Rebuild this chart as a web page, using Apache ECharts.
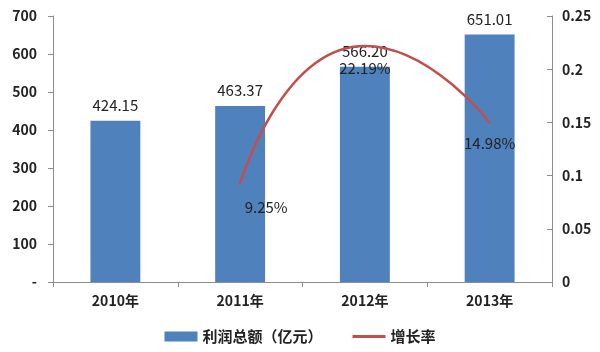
<!DOCTYPE html>
<html lang="zh">
<head>
    <meta charset="UTF-8">
    <title>利润总额及增长率</title>
    <script src="https://cdn.jsdelivr.net/npm/echarts@6/dist/echarts.min.js"></script>
    <style>
        html, body { margin: 0; padding: 0; background: #fff; }
        #main { width: 600px; height: 352px; }
    </style>
</head>
<body>
<div id="main"></div>
<script type="text/javascript">
    // 数据
    var years = ['2010年', '2011年', '2012年', '2013年'];
    var profit = [424.15, 463.37, 566.20, 651.01];
    var growth = [null, 0.0925, 0.2219, 0.1498];
    var growthLabels = ['', '9.25%', '22.19%', '14.98%'];

    var fontFam = '"Noto Sans CJK SC", "DejaVu Sans", sans-serif';
    var axisLine = { show: true, lineStyle: { color: '#8c8c8c', width: 1 } };

    // 增长率标签位置（每个点略有不同）
    var labelOffsets = [[0, 0], [26, 1], [0, 0], [0, -2]];
    var growthData = growth.map(function (v, i) {
        return { value: v, label: { offset: labelOffsets[i] } };
    });

    var myChart = echarts.init(document.getElementById('main'));
    var option = {
        animation: false,
        textStyle: { fontFamily: fontFam },
        grid: { left: 53, right: 48, top: 16, bottom: 70 },
        legend: {
            bottom: 3,
            left: 'center',
            itemGap: 30,
            itemWidth: 33,
            itemHeight: 10,
            textStyle: { fontSize: 15, fontWeight: 'bold', color: '#222', fontFamily: fontFam },
            data: [
                { name: '利润总额（亿元）', icon: 'rect' },
                { name: '增长率', icon: 'path://M0,0 L34,0 L34,3 L0,3 Z', itemStyle: { color: '#C0504D' } }
            ]
        },
        xAxis: {
            type: 'category',
            data: years,
            axisLine: axisLine,
            axisTick: { show: true, length: 5, lineStyle: { color: '#8c8c8c' } },
            axisLabel: { fontSize: 14, fontWeight: 'bold', color: '#222', margin: 12 }
        },
        yAxis: [
            {
                type: 'value',
                min: 0, max: 700, interval: 100,
                axisLine: axisLine,
                axisTick: { show: true, length: 5, lineStyle: { color: '#8c8c8c' } },
                splitLine: { show: false },
                axisLabel: {
                    fontSize: 14, fontWeight: 'bold', color: '#222', margin: 16,
                    formatter: function (v) { return v === 0 ? '-' : v; }
                }
            },
            {
                type: 'value',
                min: 0, max: 0.25, interval: 0.05,
                axisLine: axisLine,
                axisTick: { show: true, inside: true, length: 5, lineStyle: { color: '#8c8c8c' } },
                splitLine: { show: false },
                axisLabel: { fontSize: 14, fontWeight: 'bold', color: '#222', margin: 10 }
            }
        ],
        series: [
            {
                name: '利润总额（亿元）',
                type: 'bar',
                data: profit,
                barWidth: '40%',
                itemStyle: { color: '#4F81BD' },
                label: {
                    show: true, position: 'top', distance: 8,
                    fontSize: 15, color: '#222',
                    formatter: function (p) { return p.value.toFixed(2); }
                }
            },
            {
                name: '增长率',
                type: 'line',
                yAxisIndex: 1,
                data: growthData,
                smooth: 0.6,
                symbol: 'circle',
                symbolSize: 2,
                showSymbol: true,
                lineStyle: { color: '#C0504D', width: 2.5 },
                itemStyle: { color: '#C0504D' },
                label: {
                    show: true, position: 'bottom', distance: 14,
                    fontSize: 15, color: '#222',
                    formatter: function (p) { return growthLabels[p.dataIndex]; }
                }
            }
        ]
    };
    option && myChart.setOption(option);
</script>
</body>
</html>
